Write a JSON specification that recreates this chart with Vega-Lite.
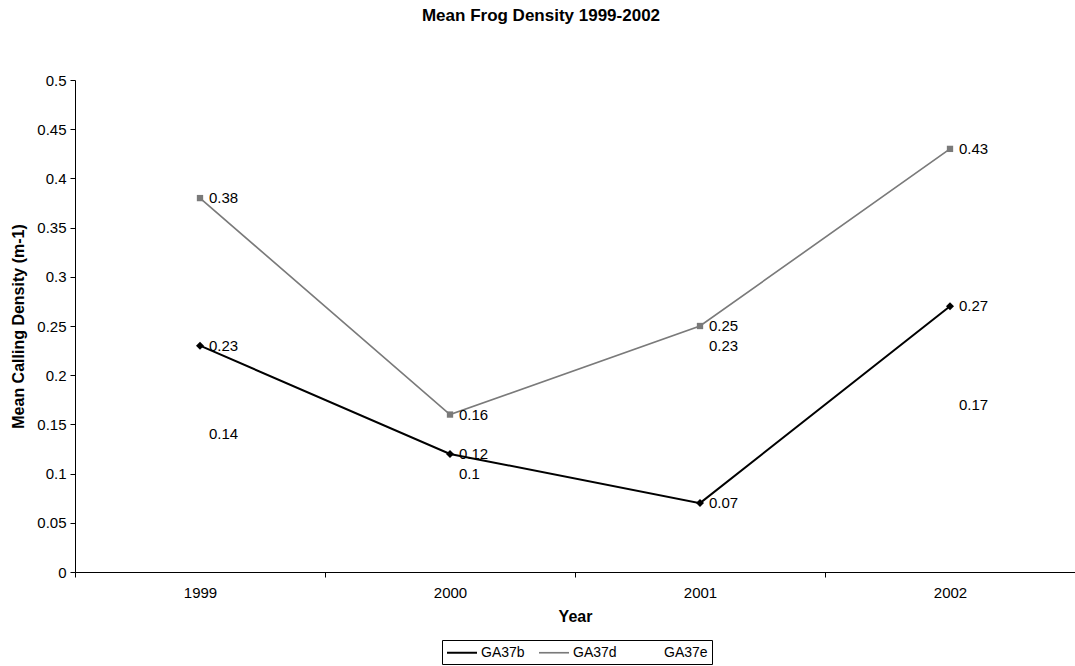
{
  "$schema": "https://vega.github.io/schema/vega-lite/v6.json",
  "width": 1000,
  "height": 492,
  "autosize": "none",
  "padding": {"left": 75, "top": 80, "right": 0, "bottom": 94},
  "background": "white",
  "title": {"text": "Mean Frog Density 1999-2002", "fontSize": 17, "fontWeight": "bold", "font": "Liberation Sans", "color": "black", "anchor": "middle", "dx": -34, "offset": 48},
  "config": {
    "view": {"stroke": null},
    "font": "Liberation Sans",
    "axis": {"domainColor": "black", "tickColor": "black", "labelColor": "black", "titleColor": "black", "labelFont": "Liberation Sans", "titleFont": "Liberation Sans", "labelFontSize": 15, "titleFontSize": 16, "titleFontWeight": "bold", "grid": false, "tickSize": 5}
  },
  "data": {"values": [
    {"Year": "1999", "Series": "GA37b", "Density": 0.23},
    {"Year": "2000", "Series": "GA37b", "Density": 0.12},
    {"Year": "2001", "Series": "GA37b", "Density": 0.07},
    {"Year": "2002", "Series": "GA37b", "Density": 0.27},
    {"Year": "1999", "Series": "GA37d", "Density": 0.38},
    {"Year": "2000", "Series": "GA37d", "Density": 0.16},
    {"Year": "2001", "Series": "GA37d", "Density": 0.25},
    {"Year": "2002", "Series": "GA37d", "Density": 0.43},
    {"Year": "1999", "Series": "GA37e", "Density": 0.14},
    {"Year": "2000", "Series": "GA37e", "Density": 0.1},
    {"Year": "2001", "Series": "GA37e", "Density": 0.23},
    {"Year": "2002", "Series": "GA37e", "Density": 0.17}
  ]},
  "encoding": {
    "x": {"field": "Year", "type": "ordinal", "title": "Year",
      "scale": {"type": "band", "paddingInner": 0, "paddingOuter": 0},
      "axis": {"labelAngle": 0, "tickBand": "extent", "labelPadding": 8, "titlePadding": 8}},
    "y": {"field": "Density", "type": "quantitative", "title": "Mean Calling Density (m-1)",
      "scale": {"domain": [0, 0.5], "nice": false},
      "axis": {"values": [0, 0.05, 0.1, 0.15, 0.2, 0.25, 0.3, 0.35, 0.4, 0.45, 0.5], "format": "~g", "labelPadding": 4, "titlePadding": 10}}
  },
  "layer": [
    {
      "mark": {"type": "line"},
      "encoding": {
        "color": {"field": "Series", "type": "nominal", "title": null,
          "scale": {"domain": ["GA37b", "GA37d", "GA37e"], "range": ["#000000", "#7a7a7a", "transparent"]},
          "legend": {"orient": "none", "legendX": 367, "legendY": 560, "direction": "horizontal", "strokeColor": "black", "padding": 4, "labelFontSize": 14, "labelFont": "Liberation Sans", "labelColor": "black", "symbolSize": 225, "symbolStrokeWidth": 1.8, "columnPadding": 10, "labelOffset": 18, "symbolType": "M-1,0L3,0"}},
        "strokeWidth": {"field": "Series", "type": "nominal", "legend": null,
          "scale": {"domain": ["GA37b", "GA37d", "GA37e"], "range": [2, 1.3, 0]}}
      }
    },
    {
      "transform": [{"filter": "datum.Series === 'GA37b'"}],
      "mark": {"type": "point", "filled": true, "opacity": 1, "shape": "diamond", "size": 64, "color": "#000000"}
    },
    {
      "transform": [{"filter": "datum.Series === 'GA37d'"}],
      "mark": {"type": "point", "filled": true, "opacity": 1, "shape": "square", "size": 40, "color": "#7a7a7a"}
    },
    {
      "mark": {"type": "text", "align": "left", "baseline": "middle", "dx": 9, "fontSize": 15, "font": "Liberation Sans", "color": "black"},
      "encoding": {
        "text": {"field": "Density", "type": "quantitative", "format": "~g"}
      }
    }
  ]
}
